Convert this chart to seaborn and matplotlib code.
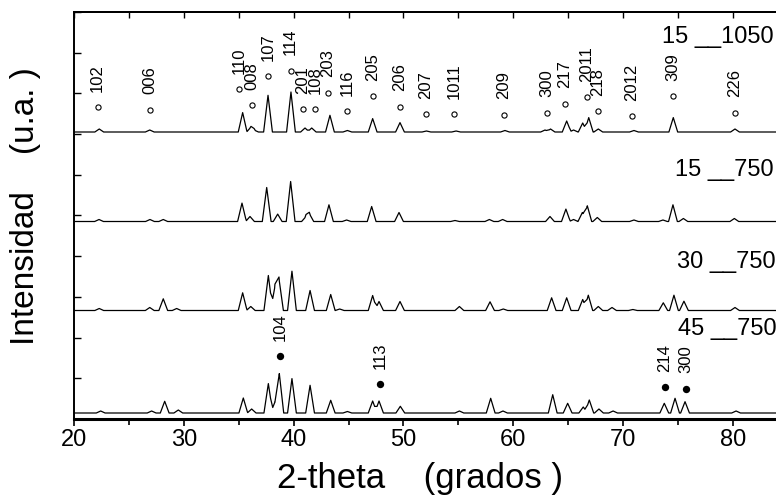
import numpy as np
import pandas as pd
import seaborn as sns
import matplotlib.pyplot as plt
from matplotlib.ticker import MultipleLocator

pos_15_1050 = [22.3, 26.9, 35.36, 36.12, 36.4, 37.67, 39.76, 41.04, 41.65, 43.31, 44.9, 47.2, 49.69,
               52.1, 54.8, 59.25, 62.9, 63.4, 64.87, 65.5, 66.33, 66.88, 67.75, 71.0, 74.58, 80.2]
alt_15_1050 = [3, 2, 19.4, 5, 2, 36.7, 40, 4, 4, 16.7, 1.5, 13.4, 9.4,
               1, 1, 1.5, 2, 3, 11, 2, 9, 14.4, 3, 1.5, 14.4, 3]

pos_15_750 = [22.28, 26.92, 28.13, 35.3, 36.03, 37.55, 38.55, 39.73, 41.13, 41.43, 43.22, 44.83, 47.11,
              49.6, 54.7, 57.83, 59.04, 63.35, 64.8, 65.5, 66.3, 66.75, 67.66, 71.0, 73.64, 74.55, 75.5, 80.14]
alt_15_750 = [2, 2, 2, 18.4, 5, 34, 7.4, 40, 5, 8, 16.7, 1.5, 15,
              9, 1, 2, 2, 5, 12.4, 2, 9, 15.7, 4, 1.5, 1.5, 16.7, 3, 3]

pos_30_750 = [22.3, 26.9, 28.13, 29.35, 35.36, 36.1, 37.7, 38.3, 38.67, 39.85, 41.5, 43.38, 44.2, 47.2,
              47.78, 49.69, 55.1, 57.89, 59.1, 63.5, 64.87, 66.33, 66.84, 67.75, 69.0, 70.9, 73.67,
              74.64, 75.55, 80.2]
alt_30_750 = [2, 3, 11.7, 2, 17.7, 4, 35, 24, 31.7, 39.3, 20, 16, 1.5, 15,
              9, 9, 4, 8.7, 1.5, 12.7, 12.7, 11, 15.3, 4, 3, 1, 7.7,
              15.3, 9.3, 3]

pos_45_750 = [22.43, 27.07, 28.26, 29.5, 35.42, 36.18, 37.7, 38.3, 38.7, 39.85, 41.5, 43.38, 44.9, 47.2,
              47.78, 49.72, 55.1, 57.95, 59.07, 63.6, 64.96, 66.38, 66.93, 67.81, 69.1, 73.76, 74.74,
              75.65, 80.3]
alt_45_750 = [2, 2, 11.7, 3, 15, 4, 29.4, 11, 39.4, 34.4, 27.7, 12.7, 1.5, 12,
              12, 6.7, 2, 14.7, 2, 18.3, 9.7, 6, 13, 4, 2, 9.7, 14.7,
              11.3, 2]

# indices (o) sobre 15_1050
hkl_o = ["102", "006", "110", "008", "107", "114", "201", "108", "203", "116", "205", "206",
         "207", "1011", "209", "300", "217", "2011", "218", "2012", "309", "226"]
hkl_o_pos = [22.16, 26.92, 35.03, 36.2, 37.67, 39.74, 40.83, 41.95, 43.13, 44.86, 47.23, 49.69,
             52.03, 54.61, 59.16, 63.08, 64.69, 66.72, 67.72, 70.82, 74.53, 80.2]
hkl_o_y = [311.7, 309.3, 329.7, 314, 343, 348.3, 310, 310, 326.3, 308, 323, 312.3,
           304.7, 305, 304.3, 306.3, 315.3, 321.7, 308, 303, 323, 306.3]

# indices (•) sobre 45_750
hkl_f = ["104", "113", "214", "300"]
hkl_f_pos = [38.76, 47.87, 73.83, 75.71]
hkl_f_y = [63, 34.7, 31.7, 30.3]

muestras = ["15 __1050", "15 __750", "30 __750", "45 __750"]
picos = [(pos_15_1050, alt_15_1050), (pos_15_750, alt_15_750),
         (pos_30_750, alt_30_750), (pos_45_750, alt_45_750)]

# desplazamiento vertical de cada curva y posicion de su rotulo
offsets = [287, 197.5, 108.5, 6]
rotulos_xy = [(73.55, 376), (74.74, 243), (74.9, 150.7), (74.97, 84)]


def perfil(pos, alt, w=0.4):
    # cada pico como triangulo; vertices exactos de la suma
    pos = np.asarray(pos)
    alt = np.asarray(alt, dtype=float)
    x = np.unique(np.concatenate([[20, 85], pos - w, pos, pos + w]))
    y = (alt[:, None] * np.clip(1 - np.abs(x[None, :] - pos[:, None]) / w, 0, None)).sum(axis=0)
    return x, y


sns.set_style("ticks")
plt.rcParams["font.family"] = ["Liberation Sans", "DejaVu Sans"]
for k in ["text.color", "axes.labelcolor", "xtick.color", "ytick.color", "axes.edgecolor"]:
    plt.rcParams[k] = "black"

fig = plt.figure(figsize=(7.76, 5.04), dpi=100)
ax = fig.add_axes([74 / 776, 85 / 504, 65 * 10.98 / 776, 407 / 504])

for nombre, (p, a), off, (tx, ty) in zip(muestras, picos, offsets, rotulos_xy):
    x, y = perfil(p, a)
    df = pd.DataFrame({"2theta": x, "I": y + off})
    sns.lineplot(data=df, x="2theta", y="I", color="black", lw=0.9,
                 estimator=None, sort=False, ax=ax)
    ax.text(tx, ty, nombre, fontsize=17, ha="left", va="baseline")

sns.scatterplot(x=hkl_o_pos, y=hkl_o_y, marker="o", s=14, color="white",
                edgecolor="black", linewidth=0.8, ax=ax, zorder=3)
sns.scatterplot(x=hkl_f_pos, y=hkl_f_y, marker="o", s=28, color="black",
                edgecolor="black", linewidth=0, ax=ax, zorder=3)

for lab, px, py in zip(hkl_o + hkl_f, hkl_o_pos + hkl_f_pos, hkl_o_y + hkl_f_y):
    ax.annotate(lab, (px, py), xytext=(0, 11), textcoords="offset points",
                rotation=90, ha="center", va="bottom", fontsize=12)

ax.set_xlim(20, 85)
ax.set_ylim(0, 407)
ax.xaxis.set_major_locator(MultipleLocator(10))
ax.xaxis.set_minor_locator(MultipleLocator(5))
ax.yaxis.set_major_locator(MultipleLocator(40.7))
ax.tick_params(axis="x", which="major", direction="out", length=5, width=1.2,
               labelsize=17, pad=2)
ax.tick_params(axis="x", which="minor", direction="out", length=4, width=1.2)
ax.tick_params(axis="y", which="major", direction="in", length=5, width=1.0,
               labelleft=False)

sec = ax.secondary_xaxis("top")
sec.xaxis.set_major_locator(MultipleLocator(5))
sec.tick_params(direction="in", length=4, width=1.0, labeltop=False)

ax.spines["bottom"].set_linewidth(2.2)
ax.spines["left"].set_linewidth(1.4)
ax.spines["top"].set_linewidth(1.4)
sec.spines["top"].set_linewidth(1.4)

ax.set_xlabel("2-theta    (grados )", fontsize=25)
ax.set_ylabel("Intensidad    (u.a. )", fontsize=24)
ax.xaxis.set_label_coords(0.485, -0.105)
ax.yaxis.set_label_coords(-0.046, 0.523)

fig.savefig("out.png", dpi=100)
